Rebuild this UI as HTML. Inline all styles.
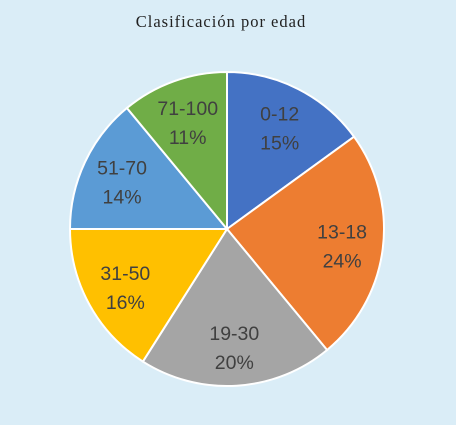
<!DOCTYPE html>
<html><head><meta charset="utf-8"><style>
html,body{margin:0;padding:0;background:#DAEDF7;}
svg{display:block;}
</style></head><body>
<svg width="456" height="425">
<rect width="456" height="425" fill="#DAEDF7"/>
<text x="221" y="27" text-anchor="middle" font-family="Liberation Serif, serif" font-size="16.5" letter-spacing="1" fill="#222">Clasificación por edad</text>
<g id="slices"></g>
<g id="labels"></g>
</svg>
<script>
const categories=["0-12","13-18","19-30","31-50","51-70","71-100"];
const values=[15,24,20,16,14,11];
const colors=["#4472C4","#ED7D31","#A5A5A5","#FFC000","#5B9BD5","#70AD47"];
const cx=227,cy=229,r=157,rl=116;
const ns="http://www.w3.org/2000/svg";
const total=values.reduce((a,b)=>a+b,0);
let acc=0;
const gs=document.getElementById('slices'),gl=document.getElementById('labels');
function pt(a,rr){return [cx+rr*Math.sin(a),cy-rr*Math.cos(a)];}
values.forEach((v,i)=>{
 const a0=acc/total*2*Math.PI; acc+=v; const a1=acc/total*2*Math.PI;
 const p0=pt(a0,r),p1=pt(a1,r);
 const large=(a1-a0)>Math.PI?1:0;
 const p=document.createElementNS(ns,'path');
 p.setAttribute('d',`M${cx},${cy} L${p0[0]},${p0[1]} A${r},${r} 0 ${large} 1 ${p1[0]},${p1[1]} Z`);
 p.setAttribute('fill',colors[i]);p.setAttribute('stroke','#fff');p.setAttribute('stroke-width','2');
 
 
 gs.appendChild(p);
 const m=(a0+a1)/2,lp=pt(m,rl);
 const t=document.createElementNS(ns,'text');
 t.setAttribute('x',lp[0]);t.setAttribute('y',lp[1]-5);t.setAttribute('text-anchor','middle');
 t.setAttribute('font-family','Liberation Sans, sans-serif');t.setAttribute('font-size','19.5');t.setAttribute('fill','#404040');
 
 
 const s1=document.createElementNS(ns,'tspan');s1.setAttribute('x',lp[0]);s1.textContent=categories[i];
 const s2=document.createElementNS(ns,'tspan');s2.setAttribute('x',lp[0]);s2.setAttribute('dy','29');s2.textContent=Math.round(v/total*100)+'%';
 t.appendChild(s1);t.appendChild(s2);gl.appendChild(t);
});
</script>
</body></html>
